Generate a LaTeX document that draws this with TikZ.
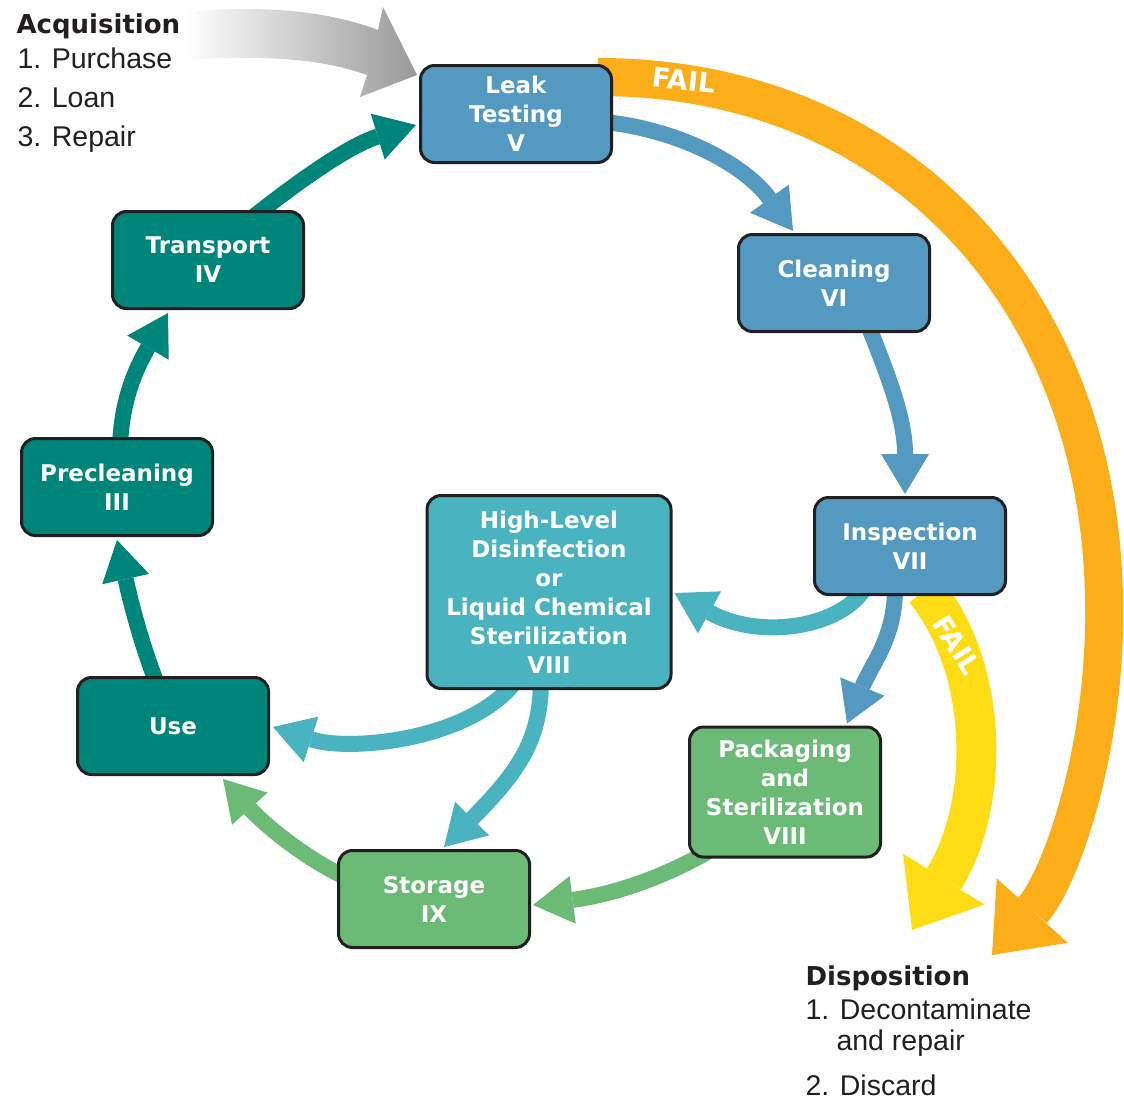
\documentclass[tikz,border=0pt]{standalone}
\usepackage{fontspec}
\usepackage{tikz}
\usetikzlibrary{arrows.meta}
\usetikzlibrary{calc}
\usetikzlibrary{backgrounds}
\newfontfamily\stagefont{DejaVu Sans}
\newfontfamily\listfont{Liberation Sans}
\definecolor{ink}{HTML}{231F20}
\definecolor{stageblue}{HTML}{5499BF}
\definecolor{stageteal}{HTML}{00857A}
\definecolor{stagecyan}{HTML}{49B4C0}
\definecolor{stagegreen}{HTML}{6BBB77}
\definecolor{failorange}{HTML}{FBAE1A}
\definecolor{failyellow}{HTML}{FFDD16}
\tikzset{>=latex}

\begin{document}
\begin{tikzpicture}[x=1pt, y=-1pt,
        stage/.style={draw=ink, line width=3pt, rounded corners=14pt, minimum width=191pt, minimum height=97pt,
            inner sep=0pt, align=center, text=white, font=\stagefont\bfseries\fontsize{23}{29}\selectfont},
        flow/.style={line width=16pt, -{Triangle[width=48pt, length=40pt, line width=0pt]}},
        failflow/.style={line width=38pt, -{Triangle[width=96pt, length=60pt, line width=0pt]}},
        failtext/.style={text=white, font=\stagefont\bfseries\fontsize{27}{30}\selectfont},
        heading/.style={anchor=base west, text=ink, font=\stagefont\bfseries\fontsize{26}{30}\selectfont},
        entry/.style={anchor=base west, text=ink, font=\listfont\fontsize{28.5}{34}\selectfont}
    ]
    \useasboundingbox (0,0) rectangle (1124,1100);

    % outer cycle
    \node[stage, fill=stageblue] (lt) at (516,114) {Leak\\Testing\\V};
    \node[stage, fill=stageblue] (cl) at (834,283) {Cleaning\\VI};
    \node[stage, fill=stageblue] (insp) at (910,546) {Inspection\\VII};
    \node[stage, fill=stagegreen, minimum height=130pt] (pk) at (785,792) {Packaging\\and\\Sterilization\\VIII};
    \node[stage, fill=stagegreen] (st) at (434,899) {Storage\\IX};
    \node[stage, fill=stageteal] (us) at (173,726) {Use};
    \node[stage, fill=stageteal] (pc) at (117,487) {Precleaning\\III};
    \node[stage, fill=stageteal] (tr) at (208,260) {Transport\\IV};
    % inner route
    \node[stage, fill=stagecyan, minimum width=244pt, minimum height=193pt] (hl) at (549,592)
        {High-Level\\Disinfection\\or\\Liquid Chemical\\Sterilization\\VIII};

    % side lists
    \node[heading] (acq) at (13,33) {Acquisition};
    \node[entry] (acq1) at (14,68) {1. Purchase};
    \node[entry] (acq2) at (14,107) {2. Loan};
    \node[entry] (acq3) at (14,146) {3. Repair};
    \node[heading] (disp) at (802,985) {Disposition};
    \node[entry] (disp1) at (802,1019) {1. Decontaminate};
    \node[entry] (disp1b) at (833,1050) {and repair};
    \node[entry] (disp2) at (802,1095) {2. Discard};

    \coordinate (acqtip) at ($(lt.north west)+(-2,11)$);
    \coordinate (ltfailtip) at (992,955);
    \coordinate (inspfailtip) at (912,930);

    \begin{scope}[on background layer]
        \fill[white] (0,0) rectangle (1124,1100);
        % incoming devices
        \shade[left color=white, right color=black!40] (185,12) .. controls (260,5) and (325,10) .. (378,30)
            -- (383,7) -- (acqtip) -- (360,97) -- (367,75) .. controls (320,58) and (260,55) .. (185,60) -- cycle;
        % fail routes
        \draw[failflow, failorange] ($(lt.east)+(-15,-37)$) .. controls +(302,0) and +(-4,-300) .. (1104,600)
            .. controls +(3,150) and +(68,-75) .. (ltfailtip);
        \draw[failflow, failyellow, line width=40pt] ($(insp.south)+(15,-6)$) .. controls +(65,80) and +(78,-125) .. (inspfailtip);
        % cycle arrows
        \draw[flow, stageblue] ($(lt.east)+(-8,8)$) .. controls +(75,8) and +(-48,-66) .. ($(cl.north)+(-41,-2)$);
        \draw[flow, stageblue] ($(cl.south)+(34,-8)$) .. controls +(22,55) and +(0,-74) .. ($(insp.north)+(-5,-2)$);
        \draw[flow, stageblue] ($(insp.south)+(-15,-8)$) .. controls +(0,50) and +(25,-60) .. ($(pk.north)+(62,-2)$);
        \draw[flow, stagecyan] ($(insp.south)+(-45,-8)$) .. controls +(-25,40) and +(85,47) .. ($(hl.east)+(2,1)$);
        \draw[flow, stagegreen] ($(pk.south)+(-75,-8)$) .. controls +(-50,29) and +(77,-10) .. ($(st.east)+(2,6)$);
        \draw[flow, stagecyan] ($(hl.south)+(-34,-8)$) .. controls +(-45,58) and +(77,25) .. ($(us.east)+(3,1)$);
        \draw[flow, stagecyan] ($(hl.south)+(-8,-8)$) .. controls +(-1,58) and +(76,-77) .. ($(st.north)+(10,-2)$);
        \draw[flow, stagegreen] ($(st.west)+(8,-22)$) .. controls +(-46,-22) and +(37,41) .. ($(us.south)+(50,3)$);
        \draw[flow, stageteal] ($(us.north)+(-16,8)$) .. controls +(-17,-44) and +(13,59) .. ($(pc.south)+(0,3)$);
        \draw[flow, stageteal] ($(pc.north)+(3,8)$) .. controls +(2,-45) and +(-33,57) .. ($(tr.south)+(-40,3)$);
        \draw[flow, stageteal] ($(tr.north)+(44,8)$) .. controls +(48,-38) and +(-66,20) .. ($(lt.west)+(-3,11)$);
    \end{scope}

    \node[failtext, rotate=-6] (ltfail) at (684,80) {FAIL};
    \node[failtext, rotate=-58] (inspfail) at (957,645) {FAIL};
\end{tikzpicture}
\end{document}
